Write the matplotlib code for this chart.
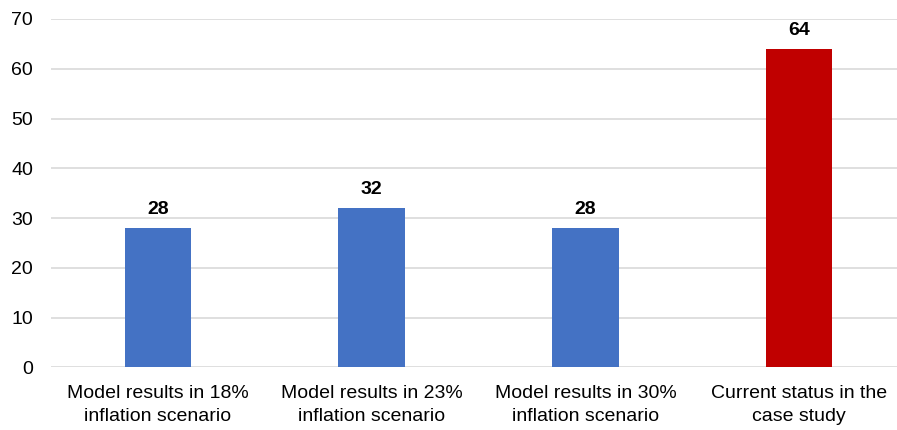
import numpy as np
import matplotlib
matplotlib.use('Agg')
import matplotlib.pyplot as plt

plt.rcParams['font.family'] = ['Liberation Sans', 'DejaVu Sans']

categories = ['Model results in 18%\ninflation scenario',
              'Model results in 23%\ninflation scenario',
              'Model results in 30%\ninflation scenario',
              'Current status in the\ncase study']
values = [28, 32, 28, 64]
colors = ['#4472C4', '#4472C4', '#4472C4', '#C00000']

fig = plt.figure(figsize=(8.97, 4.30), dpi=100)
ax = fig.add_axes([51 / 897, 62.7 / 430, 855 / 897, 348.3 / 430])

x = np.arange(len(categories))
bars = ax.bar(x, values, width=0.31, color=colors, zorder=3)

# value labels above each bar
for b, v in zip(bars, values):
    ax.annotate(f'{v}', (b.get_x() + b.get_width() / 2, v), xytext=(0, 7),
                textcoords='offset points', ha='center', va='bottom',
                fontsize=14, fontweight='bold')

ax.set_xlim(-0.5, 3.5)
ax.set_ylim(0, 70)
ax.set_yticks(np.arange(0, 71, 10))
ax.set_xticks(x)
ax.set_xticklabels(categories, fontsize=14, linespacing=1.4)
ax.tick_params(axis='y', length=0, labelsize=14, pad=13, labelcolor='#000000')
ax.tick_params(axis='x', length=0, pad=13)
ax.grid(axis='y', color='#D9D9D9', linewidth=1.2, zorder=0)
for s in ax.spines.values():
    s.set_visible(False)

plt.savefig('out.png', dpi=100)
plt.close()
